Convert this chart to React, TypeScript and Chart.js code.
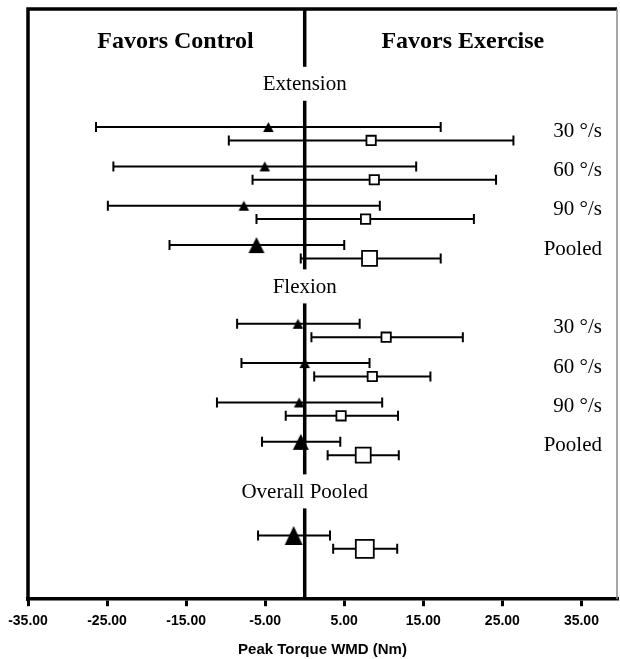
import React, { useEffect, useRef } from 'react';
import { Chart, registerables } from 'chart.js';

Chart.register(...registerables);

// ---- data ----
const groupLabels = ['Extension', 'Flexion', 'Overall Pooled'];
const rowLabels = ['30 °/s', '60 °/s', '90 °/s', 'Pooled', '30 °/s', '60 °/s', '90 °/s', 'Pooled', ''];
const rowGroup = [0, 0, 0, 0, 1, 1, 1, 1, 2];

const controlMean = [-4.6, -5.05, -7.7, -6.1, -0.85, 0.0, -0.7, -0.5, -1.4];
const controlLo = [-26.4, -24.2, -24.9, -17.1, -8.55, -8.0, -11.1, -5.4, -5.9];
const controlHi = [17.2, 14.1, 9.5, 5.0, 6.95, 8.2, 9.8, 4.5, 3.2];

const exerciseMean = [8.4, 8.8, 7.7, 8.2, 10.3, 8.55, 4.6, 7.4, 7.6];
const exerciseLo = [-9.6, -6.6, -6.1, -0.5, 0.85, 1.2, -2.4, 2.9, 3.6];
const exerciseHi = [26.4, 24.2, 21.4, 17.2, 20.0, 15.9, 11.8, 11.9, 11.7];

const xTicks = [-35, -25, -15, -5, 5, 15, 25, 35];
const sideLabels = ['Favors Control', 'Favors Exercise'];
const axisTitle = 'Peak Torque WMD (Nm)';

// ---- layout (row slots on the y scale) ----
const ROW_Y = [3, 4, 5, 6, 8, 9, 10, 11, 13.38];
const GROUP_Y = [1.9, 7.05, 12.26];
const PAIR_OFFSET = 0.34;
const SIDE_X = [-16.35, 20.0];
const SIDE_Y = 0.84;
const LABEL_X = 37.6;

const kindOf = (i: number) => (rowGroup[i] === 2 ? 2 : rowLabels[i] === 'Pooled' ? 1 : 0);

function triCanvas(w: number, h: number) {
  const W = Math.ceil(w) + 2;
  const H = Math.ceil(h) + 2;
  const c = document.createElement('canvas');
  c.width = W;
  c.height = H;
  const g = c.getContext('2d')!;
  g.fillStyle = '#000';
  g.beginPath();
  g.moveTo(W / 2, (H - h) / 2);
  g.lineTo((W + w) / 2, (H + h) / 2);
  g.lineTo((W - w) / 2, (H + h) / 2);
  g.closePath();
  g.fill();
  return c;
}

const forestPlugin = {
  id: 'forest',
  beforeDatasetsDraw(chart: any) {
    const { ctx, chartArea, scales } = chart;
    const { top, bottom } = chartArea;
    const x = scales.x;
    const y = scales.y;
    ctx.save();
    // zero line
    const x0 = x.getPixelForValue(0);
    ctx.strokeStyle = '#000';
    ctx.lineWidth = 3.5;
    ctx.beginPath();
    ctx.moveTo(x0, top);
    ctx.lineTo(x0, bottom);
    ctx.stroke();

    // group labels breaking the zero line
    ctx.font = '21px "Liberation Serif"';
    ctx.textAlign = 'center';
    ctx.textBaseline = 'middle';
    groupLabels.forEach((t, g) => {
      const py = y.getPixelForValue(GROUP_Y[g]);
      const w = ctx.measureText(t).width;
      ctx.fillStyle = '#fff';
      ctx.fillRect(x0 - w / 2 - 4, py - 17, w + 8, 34);
      ctx.fillStyle = '#000';
      ctx.fillText(t, x0, py + 1);
    });

    // side headers
    ctx.font = 'bold 24px "Liberation Serif"';
    sideLabels.forEach((t, k) => {
      ctx.fillText(t, x.getPixelForValue(SIDE_X[k]), y.getPixelForValue(SIDE_Y));
    });

    // row labels
    ctx.font = '21px "Liberation Serif"';
    ctx.textAlign = 'right';
    rowLabels.forEach((t, i) => {
      if (!t) return;
      ctx.fillText(t, x.getPixelForValue(LABEL_X), y.getPixelForValue(ROW_Y[i] + 0.08) + 1);
    });

    // error bars
    ctx.lineWidth = 2;
    ctx.strokeStyle = '#000';
    const bar = (lo: number, hi: number, yv: number) => {
      const py = y.getPixelForValue(yv);
      const a = x.getPixelForValue(lo);
      const b = x.getPixelForValue(hi);
      ctx.beginPath();
      ctx.moveTo(a, py);
      ctx.lineTo(b, py);
      ctx.moveTo(a, py - 5);
      ctx.lineTo(a, py + 5);
      ctx.moveTo(b, py - 5);
      ctx.lineTo(b, py + 5);
      ctx.stroke();
    };
    ROW_Y.forEach((ry, i) => {
      bar(controlLo[i], controlHi[i], ry);
      bar(exerciseLo[i], exerciseHi[i], ry + PAIR_OFFSET);
    });
    ctx.restore();
  },
  afterDraw(chart: any) {
    const { ctx, chartArea } = chart;
    const { left, right, top, bottom } = chartArea;
    ctx.save();
    ctx.strokeStyle = '#000';
    ctx.lineWidth = 3.5;
    ctx.beginPath();
    ctx.moveTo(left, bottom + 1.75);
    ctx.lineTo(left, top);
    ctx.lineTo(right, top);
    ctx.stroke();
    ctx.strokeStyle = '#8a8a8a';
    ctx.lineWidth = 1.5;
    ctx.beginPath();
    ctx.moveTo(right, top);
    ctx.lineTo(right, bottom);
    ctx.stroke();
    ctx.restore();
  },
};

export default function App() {
  const ref = useRef<HTMLCanvasElement | null>(null);
  useEffect(() => {
    if (!ref.current) return;
    const tris = [triCanvas(10.5, 10), triCanvas(16, 16), triCanvas(18, 19)];
    const sqR = [6.6, 10.6, 12.7];
    const chart = new Chart(ref.current, {
      type: 'scatter',
      data: {
        datasets: [
          {
            label: 'Control',
            data: controlMean.map((v, i) => ({ x: v, y: ROW_Y[i] })),
            pointStyle: (c: any) => tris[kindOf(c.dataIndex)],
            backgroundColor: '#000',
            borderColor: '#000',
            order: 1,
          },
          {
            label: 'Exercise',
            data: exerciseMean.map((v, i) => ({ x: v, y: ROW_Y[i] + PAIR_OFFSET })),
            pointStyle: 'rect',
            pointRadius: (c: any) => sqR[kindOf(c.dataIndex)],
            backgroundColor: '#fff',
            borderColor: '#000',
            borderWidth: 1.8,
            order: 0,
          },
        ] as any,
      },
      options: {
        animation: false,
        responsive: false,
        maintainAspectRatio: false,
        layout: { autoPadding: false, padding: { left: 28, right: 3, top: 9, bottom: 0 } },
        plugins: { legend: { display: false }, tooltip: { enabled: false } },
        scales: {
          x: {
            type: 'linear',
            min: -35,
            max: 39.5,
            afterBuildTicks: (s: any) => {
              s.ticks = xTicks.map((v) => ({ value: v }));
            },
            ticks: {
              callback: (v: any) => Number(v).toFixed(2),
              font: { family: 'Liberation Sans', weight: 'bold', size: 14 },
              color: '#000',
              padding: 7,
              maxRotation: 0,
              autoSkip: false,
            },
            grid: { drawOnChartArea: false, drawTicks: true, tickLength: 7, color: '#000', lineWidth: 3 },
            border: { display: true, color: '#000', width: 3.5 },
            title: {
              display: true,
              text: axisTitle,
              font: { family: 'Liberation Sans', weight: 'bold', size: 15 },
              color: '#000',
              padding: { top: 4, bottom: 0 },
            },
          },
          y: { type: 'linear', min: 0, max: 15, reverse: true, display: false },
        },
      } as any,
      plugins: [forestPlugin],
    });
    return () => chart.destroy();
  }, []);
  return (
    <div style={{ position: 'fixed', left: 0, top: 0, width: 620, height: 659, overflow: 'hidden', background: '#fff' }}>
      <canvas ref={ref} width={620} height={659} style={{ display: 'block' }} />
    </div>
  );
}
